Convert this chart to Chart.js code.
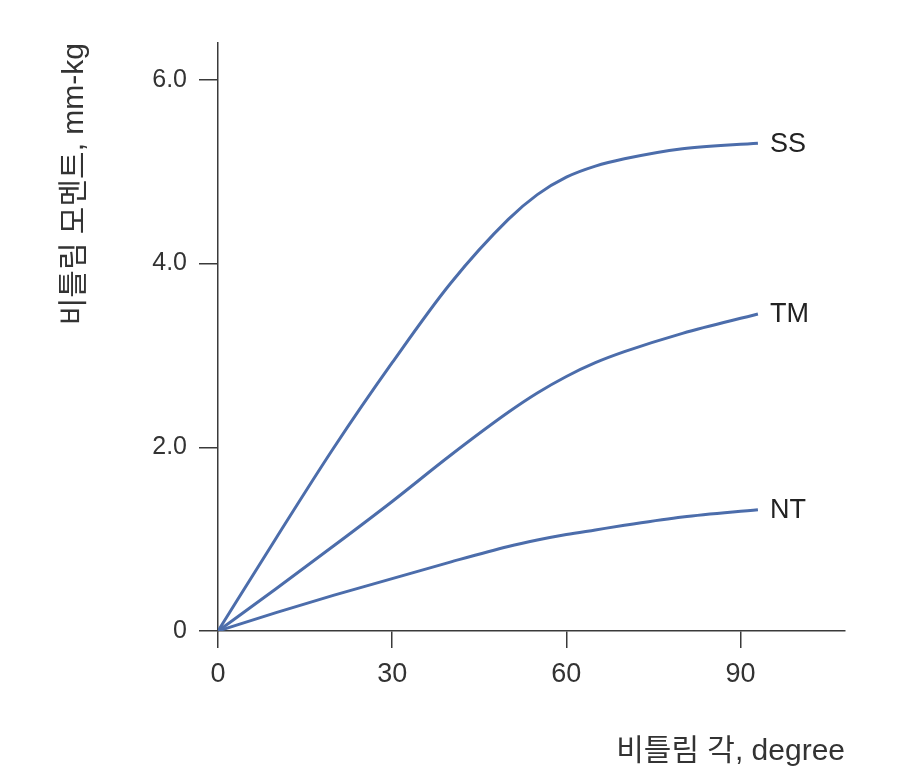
<!DOCTYPE html>
<html>
<head>
<meta charset="utf-8">
<script src="https://cdn.jsdelivr.net/npm/chart.js@4.4.1/dist/chart.umd.min.js"></script>
<style>
  html, body { margin: 0; padding: 0; background: #fff; }
  #wrap { width: 921px; height: 781px; }
</style>
</head>
<body>
<div id="wrap"><canvas id="twist_chart"></canvas></div>
<script>
// angle of twist (degree) and twisting moment (mm-kg)
var angles = [0, 10, 20, 30, 40, 50, 55, 60, 65, 70, 80, 93];
var seriesNames = ['SS', 'TM', 'NT'];
var ssMoment = [0, 1.01, 2.0, 2.92, 3.78, 4.48, 4.75, 4.94, 5.06, 5.14, 5.25, 5.31];
var tmMoment = [0, 0.46, 0.93, 1.41, 1.91, 2.38, 2.59, 2.77, 2.92, 3.04, 3.24, 3.45];
var ntMoment = [0, 0.2, 0.39, 0.57, 0.75, 0.92, 0.99, 1.05, 1.10, 1.15, 1.24, 1.32];
var xTicks = [0, 30, 60, 90];
var xTickLabels = ['0', '30', '60', '90'];
var yTicks = [0, 2, 4, 6];
var yTickLabels = ['0', '2.0', '4.0', '6.0'];

var axisColor = '#3a3a3a';
var lineColor = '#4c6dab';
var fontFamily = "'Liberation Sans', 'Noto Sans CJK KR', sans-serif";

function toPoints(values) {
    return values.map(function (v, i) {
        return { x: angles[i], y: v };
    });
}

var endLabels = {
    id: 'endLabels',
    afterDatasetsDraw: function (chart) {
        var ctx = chart.ctx;
        ctx.save();
        ctx.font = '27px ' + fontFamily;
        ctx.fillStyle = '#222';
        ctx.textBaseline = 'middle';
        ctx.textAlign = 'left';
        chart.data.datasets.forEach(function (ds, i) {
            var pts = chart.getDatasetMeta(i).data;
            var last = pts[pts.length - 1];
            ctx.fillText(ds.label, last.x + 12, last.y + 1);
        });
        ctx.restore();
    }
};

var element = document.getElementById('twist_chart');

new Chart(element, {
    type: 'line',
    data: {
        datasets: [
            { label: seriesNames[0], data: toPoints(ssMoment) },
            { label: seriesNames[1], data: toPoints(tmMoment) },
            { label: seriesNames[2], data: toPoints(ntMoment) }
        ]
    },
    options: {
        responsive: true,
        maintainAspectRatio: false,
        animation: false,
        layout: {
            padding: { top: 43, right: 76, left: 57, bottom: 0 }
        },
        elements: {
            line: {
                borderColor: lineColor,
                borderWidth: 3,
                cubicInterpolationMode: 'monotone'
            },
            point: { radius: 0 }
        },
        plugins: {
            legend: { display: false },
            tooltip: { enabled: false }
        },
        scales: {
            x: {
                type: 'linear',
                min: 0,
                max: 108,
                afterBuildTicks: function (axis) {
                    axis.ticks = xTicks.map(function (v) { return { value: v }; });
                },
                afterFit: function (scale) {
                    scale.height = 150;
                },
                ticks: {
                    color: '#333',
                    padding: 10,
                    maxRotation: 0,
                    font: { family: fontFamily, size: 27 },
                    callback: function (value) {
                        return xTickLabels[xTicks.indexOf(value)];
                    }
                },
                grid: {
                    drawOnChartArea: false,
                    drawTicks: true,
                    tickLength: 17,
                    color: axisColor,
                    lineWidth: 1.5
                },
                border: { display: true, color: axisColor, width: 1.5 },
                title: {
                    display: true,
                    text: '비틀림 각, degree',
                    align: 'end',
                    color: '#333',
                    padding: { top: 0, bottom: 11 },
                    font: { family: fontFamily, size: 30 }
                }
            },
            y: {
                type: 'linear',
                min: 0,
                max: 6.4,
                afterBuildTicks: function (axis) {
                    axis.ticks = yTicks.map(function (v) { return { value: v }; });
                },
                afterFit: function (scale) {
                    scale.width = 161;
                },
                ticks: {
                    color: '#333',
                    padding: 12,
                    font: { family: fontFamily, size: 25 },
                    callback: function (value) {
                        return yTickLabels[yTicks.indexOf(value)];
                    }
                },
                grid: {
                    drawOnChartArea: false,
                    drawTicks: true,
                    tickLength: 19,
                    color: axisColor,
                    lineWidth: 1.5
                },
                border: { display: true, color: axisColor, width: 1.5 },
                title: {
                    display: true,
                    text: '비틀림 모멘트, mm-kg',
                    align: 'end',
                    color: '#333',
                    padding: { top: 0, bottom: 0 },
                    font: { family: fontFamily, size: 30 }
                }
            }
        }
    },
    plugins: [endLabels]
});
</script>
</body>
</html>
